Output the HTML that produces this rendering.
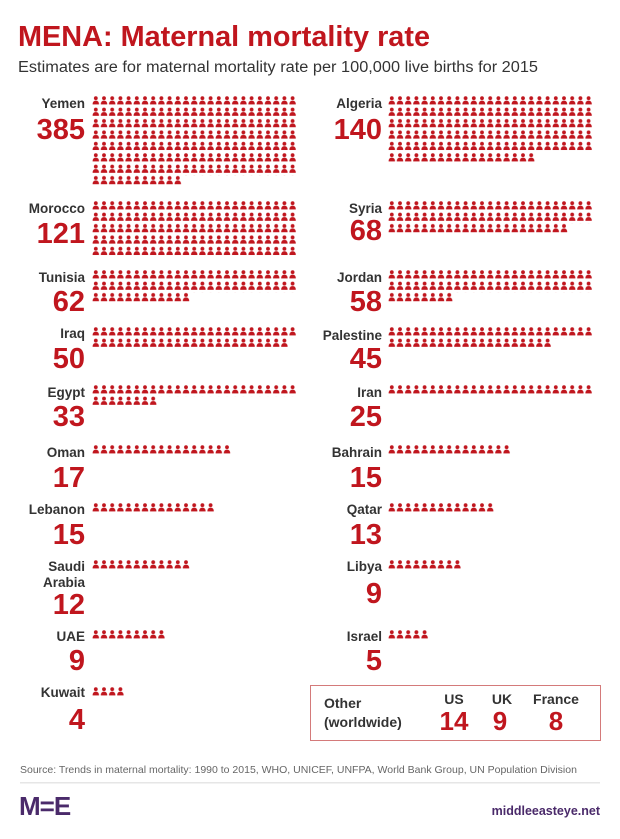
<!DOCTYPE html>
<html><head><meta charset="utf-8"><style>
body{margin:0;background:#fff;width:620px;height:834px;overflow:hidden;font-family:"Liberation Sans",sans-serif}
</style></head><body>
<svg width="620" height="834" xmlns="http://www.w3.org/2000/svg" font-family="Liberation Sans, sans-serif">
<defs>
<pattern id="p" patternUnits="userSpaceOnUse" x="0" y="0" width="8.2" height="11.4">
<circle cx="3.8" cy="2.2" r="1.9" fill="#c0161e"/>
<path d="M0.6,8.4 Q0.6,4.6 3.8,4.6 Q7,4.6 7,8.4 Z" fill="#c0161e"/>
</pattern>
</defs>
<text x="18" y="46" font-size="29" font-weight="bold" fill="#c0161e" textLength="412" lengthAdjust="spacingAndGlyphs">MENA: Maternal mortality rate</text>
<text x="18" y="72" font-size="15.5" fill="#333" textLength="520" lengthAdjust="spacingAndGlyphs">Estimates are for maternal mortality rate per 100,000 live births for 2015</text>

<g font-weight="bold" text-anchor="end">
<g font-size="13.5" fill="#333">
<text x="85" y="108">Yemen</text><text x="85" y="213">Morocco</text><text x="85" y="282">Tunisia</text>
<text x="85" y="338">Iraq</text><text x="85" y="397">Egypt</text><text x="85" y="457">Oman</text>
<text x="85" y="514">Lebanon</text><text x="85" y="571">Saudi</text><text x="85" y="587">Arabia</text>
<text x="85" y="641">UAE</text><text x="85" y="697">Kuwait</text>
<text x="382" y="108">Algeria</text><text x="382" y="213">Syria</text><text x="382" y="282">Jordan</text>
<text x="382" y="340">Palestine</text><text x="382" y="397">Iran</text><text x="382" y="457">Bahrain</text>
<text x="382" y="514">Qatar</text><text x="382" y="571">Libya</text><text x="382" y="641">Israel</text>
</g>
<g font-size="29" fill="#c0161e">
<text x="85" y="139">385</text><text x="85" y="243">121</text><text x="85" y="311">62</text>
<text x="85" y="368">50</text><text x="85" y="426">33</text><text x="85" y="487">17</text>
<text x="85" y="544">15</text><text x="85" y="614">12</text><text x="85" y="670">9</text>
<text x="85" y="729">4</text>
<text x="382" y="139">140</text><text x="382" y="240">68</text><text x="382" y="311">58</text>
<text x="382" y="368">45</text><text x="382" y="426">25</text><text x="382" y="487">15</text>
<text x="382" y="544">13</text><text x="382" y="603">9</text><text x="382" y="670">5</text>
</g>
</g>

<g fill="url(#p)">
<g transform="translate(92,96)"><rect width="205" height="80"/><rect y="79.8" width="90.2" height="9"/></g>
<g transform="translate(388,96)"><rect width="205" height="57"/><rect y="57" width="147.6" height="9"/></g>
<g transform="translate(92,201)"><rect width="205" height="57"/></g>
<g transform="translate(388,201)"><rect width="205" height="22.8"/><rect y="22.8" width="180.4" height="9"/></g>
<g transform="translate(92,270)"><rect width="205" height="22.8"/><rect y="22.8" width="98.4" height="9"/></g>
<g transform="translate(388,270)"><rect width="205" height="22.8"/><rect y="22.8" width="65.6" height="9"/></g>
<g transform="translate(92,327)"><rect width="205" height="11.4"/><rect y="11.4" width="196.8" height="9"/></g>
<g transform="translate(388,327)"><rect width="205" height="11.4"/><rect y="11.4" width="164" height="9"/></g>
<g transform="translate(92,385)"><rect width="205" height="11.4"/><rect y="11.4" width="65.6" height="9"/></g>
<g transform="translate(388,385)"><rect width="205" height="9"/></g>
<g transform="translate(92,445)"><rect width="139.4" height="9"/></g>
<g transform="translate(388,445)"><rect width="123" height="9"/></g>
<g transform="translate(92,503)"><rect width="123" height="9"/></g>
<g transform="translate(388,503)"><rect width="106.6" height="9"/></g>
<g transform="translate(92,560)"><rect width="98.4" height="9"/></g>
<g transform="translate(388,560)"><rect width="73.8" height="9"/></g>
<g transform="translate(92,630)"><rect width="73.8" height="9"/></g>
<g transform="translate(388,630)"><rect width="41" height="9"/></g>
<g transform="translate(92,687)"><rect width="32.8" height="9"/></g>
</g>

<rect x="310.5" y="685.5" width="290" height="55" fill="none" stroke="#d47a7a" stroke-width="1"/>
<g font-weight="bold" fill="#333" font-size="14">
<text x="324" y="708">Other</text><text x="324" y="727">(worldwide)</text>
<text x="454" y="704" text-anchor="middle">US</text>
<text x="502" y="704" text-anchor="middle">UK</text>
<text x="556" y="704" text-anchor="middle">France</text>
</g>
<g font-weight="bold" fill="#c0161e" font-size="26" text-anchor="middle">
<text x="454" y="730">14</text><text x="500" y="730">9</text><text x="556" y="730">8</text>
</g>

<text x="20" y="773" font-size="10.5" fill="#666">Source: Trends in maternal mortality: 1990 to 2015, WHO, UNICEF, UNFPA, World Bank Group,  UN Population Division</text>
<rect x="20" y="782" width="580" height="1.5" fill="#e6e6e6"/>
<text x="19" y="815" font-size="26" font-weight="bold" fill="#4a2a6a" letter-spacing="-1">M=E</text>
<text x="600" y="815" font-size="12.5" font-weight="bold" fill="#4a2a6a" text-anchor="end">middleeasteye.net</text>
</svg>
</body></html>
